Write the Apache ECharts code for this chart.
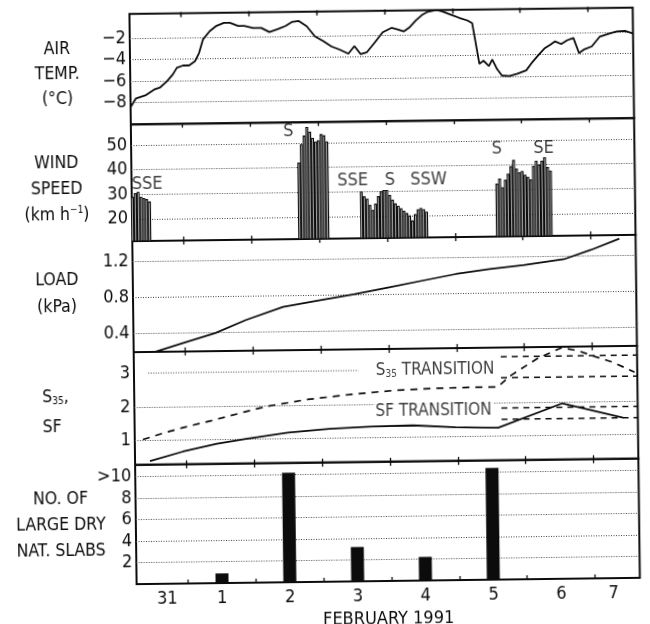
<!DOCTYPE html>
<html>
<head>
<meta charset="utf-8">
<script src="https://cdn.jsdelivr.net/npm/echarts@6/dist/echarts.min.js"></script>
<style>
html, body { margin: 0; padding: 0; background: #fff; }
/* the scanned figure is slightly rotated */
#chart { width: 650px; height: 624px; transform: rotate(-0.72deg); transform-origin: 385px 296px; }
</style>
</head>
<body>
<div id="chart"></div>
<script>
// time axis: days since 31 Jan 00:00
const dayTicks = [1, 2, 3, 4, 5, 6, 7];
const dayLabels = ['31', '1', '2', '3', '4', '5', '6', '7'];
const dayLabelPos = [0.69, 1.5, 2.5, 3.5, 4.5, 5.5, 6.5, 7.27];

// air temperature (°C)
const tempT = [0.24,0.32,0.47,0.59,0.68,0.78,0.87,0.93,1.02,1.11,1.20,1.26,1.32,1.42,1.51,1.63,1.72,1.84,1.93,2.06,2.18,2.30,2.42,2.54,2.63,2.73,2.85,2.97,3.09,3.21,3.33,3.46,3.55,3.64,3.73,3.85,3.97,4.10,4.19,4.28,4.37,4.46,4.55,4.64,4.77,4.86,4.98,5.10,5.22,5.29,5.33,5.39,5.45,5.53,5.58,5.65,5.72,5.83,5.95,6.08,6.17,6.26,6.35,6.44,6.51,6.60,6.69,6.78,6.86,6.93,7.05,7.17,7.30,7.42,7.54,7.66];
const tempV = [-8.4,-7.6,-7.3,-6.8,-6.6,-6.05,-5.4,-4.8,-4.6,-4.6,-4.2,-3.45,-2.2,-1.45,-1.0,-0.7,-0.7,-1.0,-1.0,-1.2,-1.2,-1.6,-1.35,-1.05,-0.7,-0.6,-1.1,-2.05,-2.5,-3.0,-3.3,-3.7,-3.0,-3.75,-3.6,-2.7,-1.75,-1.35,-1.5,-1.7,-1.3,-0.7,-0.2,0.1,0.25,0.1,-0.2,-0.5,-0.75,-1.0,-2.5,-4.8,-4.5,-5.0,-4.4,-5.3,-5.9,-5.95,-5.75,-5.45,-4.7,-4.05,-3.45,-3.1,-2.8,-3.05,-2.7,-2.5,-3.9,-3.6,-3.3,-2.4,-2.15,-1.95,-1.9,-2.15];

// hourly wind speed (km/h), four windy spells
const windStartHour = [6, 65, 87, 135];
const windGroups = [
  [29, 30.5, 31, 29, 28.5, 28, 27],
  [42, 49.5, 53, 56.5, 54.5, 52, 50.5, 51, 53.5, 53, 50.5],
  [30, 28, 27, 24.5, 22.5, 25, 28, 30, 30.5, 30.5, 28.5, 26.5, 25, 24, 23, 22, 21, 20, 18, 20.5, 22.5, 23, 22.5, 21.5],
  [32.5, 34.5, 31, 34, 36.5, 39.5, 42, 38.5, 37, 37.5, 36, 35, 34, 39.5, 41.5, 40, 41.5, 43, 39, 37.5]
];
const windDirs = ['SSE', 'S', 'SSE', 'S', 'SSW', 'S', 'SE'];
const windDirT = [0.47, 2.56, 3.5, 4.05, 4.62, 5.63, 6.32];
const windDirV = [34, 54.8, 34.5, 34.5, 34.5, 46.4, 46.4];

// snow load (kPa)
const loadT = [0.56, 1.0, 1.45, 1.9, 2.45, 3.0, 3.5, 4.0, 4.5, 5.0, 5.5, 6.0, 6.6, 7.0, 7.42];
const loadV = [0.19, 0.29, 0.39, 0.53, 0.67, 0.74, 0.80, 0.87, 0.94, 1.01, 1.06, 1.10, 1.16, 1.26, 1.38];

// stability indices
const sfT = [0.46,0.95,1.45,1.88,2.50,3.11,3.73,4.35,4.97,5.6,6.55,7.44];
const sfV = [0.39,0.66,0.88,1.01,1.18,1.28,1.33,1.35,1.28,1.25,1.95,1.5];
const s35T = [0.36,0.64,0.95,1.38,1.88,2.19,2.80,3.42,4.04,4.66,5.28,5.6,5.8,6.2,6.55,6.8,7.0,7.3,7.62];
const s35V = [1.03,1.2,1.37,1.57,1.82,1.97,2.16,2.29,2.39,2.44,2.46,2.46,2.8,3.3,3.6,3.5,3.35,3.15,2.85];
const s35Band = [3.35, 2.73];
const sfBand = [1.83, 1.5];
const bandStartT = 5.65;

// large dry natural slab avalanches per day
const slabT = [1.5, 2.5, 3.5, 4.5, 5.5];
const slabV = [0.9, 10.2, 3.2, 2.2, 10.4];

// ---- layout / style ----
const INK = '#0c0c0c';
const FONT = "'Liberation Sans Narrow', 'DejaVu Sans Condensed', 'Liberation Sans', sans-serif";
const X_MIN = 0.24, X_MAX = 7.66;
const panels = [
  { top: 10.7, height: 110.5, min: -10, max: 0.25, ticks: [-8, -6, -4, -2], labels: [-8, -6, -4, -2] },
  { top: 121.2, height: 116.8, min: 11, max: 58.4, ticks: [20, 30, 40, 50], labels: [20, 30, 40, 50] },
  { top: 238, height: 110.9, min: 0.19, max: 1.42, ticks: [0.4, 0.8, 1.2], labels: [0.4, 0.8, 1.2] },
  { top: 348.9, height: 112.9, min: 0.28, max: 3.63, ticks: [1, 2], labels: [1, 2, 3] },
  { top: 461.8, height: 119.2, min: 0, max: 11.1, ticks: [2, 4, 6, 8, 10], labels: [2, 4, 6, 8, 10] }
];

function fmtY(i, v) {
  if (i === 0) return '\u2212' + Math.abs(v);
  if (i === 2) return v.toFixed(1);
  if (i === 4 && v === 10) return '>10';
  return String(v);
}

const grids = panels.map(p => ({
  left: 133, right: 13.7, top: p.top, height: p.height,
  outerBoundsMode: 'none', containLabel: false,
  show: true, borderColor: INK, borderWidth: 2, backgroundColor: 'transparent'
}));

const xAxes = [];
panels.forEach((p, i) => {
  ['bottom', 'top'].forEach(pos => {
    const withLabels = i === 4 && pos === 'bottom';
    xAxes.push({
      type: 'value', gridIndex: i, position: pos, min: X_MIN, max: X_MAX,
      axisLine: { show: false }, splitLine: { show: false },
      axisTick: { show: true, inside: true, length: 4, customValues: dayTicks, lineStyle: { color: INK, width: 1.3 } },
      axisLabel: withLabels ? {
        customValues: dayLabelPos, margin: 6,
        fontSize: 18, fontFamily: FONT, color: INK,
        formatter: v => {
          const k = dayLabelPos.findIndex(d => Math.abs(d - v) < 1e-6);
          return k >= 0 ? dayLabels[k] : '';
        }
      } : { show: false },
      name: withLabels ? 'FEBRUARY 1991' : '',
      nameLocation: 'middle', nameGap: 29,
      nameTextStyle: { fontSize: 18, fontFamily: FONT, color: INK }
    });
  });
});

const yAxes = panels.map((p, i) => ({
  type: 'value', gridIndex: i, min: p.min, max: p.max,
  axisLine: { show: false },
  axisTick: { show: false, customValues: p.ticks },
  splitLine: { show: true, lineStyle: { color: '#444', type: [1, 1.5], width: 1 } },
  axisLabel: {
    customValues: p.labels, margin: 4,
    fontSize: 18, fontFamily: FONT, color: INK,
    formatter: v => fmtY(i, v)
  }
}));

const zip = (a, b) => a.map((x, k) => [x, b[k]]);

const windData = [];
windGroups.forEach((g, gi) => {
  g.forEach((v, k) => windData.push([(windStartHour[gi] + k) / 24, v]));
});

const lineBase = { type: 'line', symbol: 'none', animation: false, z: 3 };

const series = [
  Object.assign({}, lineBase, {
    xAxisIndex: 0, yAxisIndex: 0, data: zip(tempT, tempV),
    lineStyle: { color: INK, width: 1.8 }
  }),
  {
    type: 'bar', xAxisIndex: 2, yAxisIndex: 1, data: windData, barWidth: 2.9,
    itemStyle: { color: '#fff', borderColor: INK, borderWidth: 1.15 }, animation: false
  },
  {
    type: 'scatter', xAxisIndex: 2, yAxisIndex: 1, symbolSize: 0,
    data: windDirs.map((d, k) => ({ name: d, value: [windDirT[k], windDirV[k]] })),
    label: { show: true, position: 'inside', formatter: '{b}', fontSize: 18, fontFamily: FONT, color: INK },
    animation: false, z: 5
  },
  Object.assign({}, lineBase, {
    xAxisIndex: 4, yAxisIndex: 2, data: zip(loadT, loadV),
    lineStyle: { color: INK, width: 1.7 }
  }),
  // partial "3" gridline of the S35/SF panel
  Object.assign({}, lineBase, {
    xAxisIndex: 6, yAxisIndex: 3, data: [[0.45, 3], [3.55, 3]],
    lineStyle: { color: '#444', type: [1, 1.5], width: 1 }, z: 1
  }),
  Object.assign({}, lineBase, {
    xAxisIndex: 6, yAxisIndex: 3, data: zip(sfT, sfV),
    lineStyle: { color: INK, width: 1.8 }
  }),
  Object.assign({}, lineBase, {
    xAxisIndex: 6, yAxisIndex: 3, data: zip(s35T, s35V),
    lineStyle: { color: INK, width: 1.7, type: [7, 6] }
  })
];

s35Band.concat(sfBand).forEach(v => {
  series.push(Object.assign({}, lineBase, {
    xAxisIndex: 6, yAxisIndex: 3, data: [[bandStartT, v], [X_MAX, v]],
    lineStyle: { color: INK, width: 1.5, type: [6, 5] }
  }));
});

series.push({
  type: 'scatter', xAxisIndex: 6, yAxisIndex: 3, symbolSize: 0, animation: false, z: 6,
  data: [
    { name: 's35', value: [4.68, 3.0] },
    { name: 'sf', value: [4.65, 1.76] }
  ],
  label: {
    show: true, position: 'inside', backgroundColor: '#fff', padding: [1, 2],
    formatter: p => p.name === 's35' ? '{n|S}{sub|35}{n| TRANSITION}' : '{n|SF TRANSITION}',
    rich: {
      n: { fontSize: 17, fontFamily: FONT, color: INK },
      sub: { fontSize: 10, fontFamily: FONT, color: INK, padding: [8, 0, 0, 0] }
    }
  }
});

series.push({
  type: 'bar', xAxisIndex: 8, yAxisIndex: 4, data: zip(slabT, slabV), barWidth: 13,
  itemStyle: { color: INK }, animation: false
});

const titleStyle = { font: '17.5px ' + FONT, fill: INK, align: 'center', verticalAlign: 'top' };
const graphic = [
  { type: 'text', x: 60, y: 33, style: Object.assign({}, titleStyle, { text: 'AIR\nTEMP.\n(\u00B0C)', lineHeight: 25 }) },
  { type: 'text', x: 58, y: 146, style: Object.assign({}, titleStyle, {
      text: '{n|WIND}\n{n|SPEED}\n{n|(km h}{sup|\u22121}{n|)}',
      rich: { n: { fontSize: 17.5, fontFamily: FONT, lineHeight: 26, fill: INK }, sup: { fontSize: 10, fontFamily: FONT, lineHeight: 26, fill: INK, padding: [0, 0, 9, 0] } }
  }) },
  { type: 'text', x: 57, y: 263, style: Object.assign({}, titleStyle, { text: 'LOAD\n(kPa)', lineHeight: 27 }) },
  { type: 'text', x: 41, y: 378, style: Object.assign({}, titleStyle, {
      align: 'left',
      text: '{n|S}{sub|35}{n|,}\n{n|SF}',
      rich: { n: { fontSize: 17.5, fontFamily: FONT, lineHeight: 30, fill: INK }, sub: { fontSize: 10, fontFamily: FONT, lineHeight: 30, fill: INK, padding: [8, 0, 0, 0] } }
  }) },
  { type: 'text', x: 58, y: 482, style: Object.assign({}, titleStyle, { text: 'NO. OF\nLARGE DRY\nNAT. SLABS', lineHeight: 26 }) }
];

const chart = echarts.init(document.getElementById('chart'), null, { renderer: 'canvas' });
chart.setOption({
  backgroundColor: '#fff',
  animation: false,
  grid: grids,
  xAxis: xAxes,
  yAxis: yAxes,
  series: series,
  graphic: graphic
});
</script>
</body>
</html>
